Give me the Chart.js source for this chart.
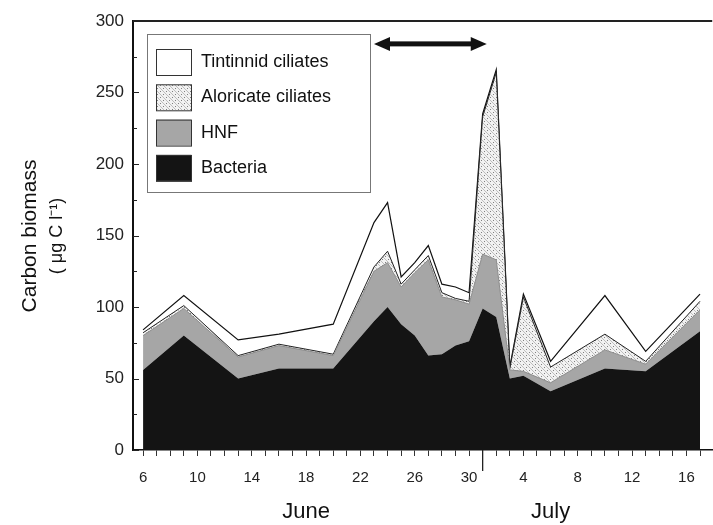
<!DOCTYPE html>
<html>
<head>
<meta charset="utf-8">
<script src="https://cdn.jsdelivr.net/npm/chart.js@4"></script>
<style>
  html, body { margin: 0; padding: 0; background: #fff; }
  #wrap { width: 713px; height: 525px; }
</style>
</head>
<body>
<div id="wrap"><canvas id="bioChart" width="713" height="525"></canvas></div>
<script>
// sampling days (June d -> d, July d -> 30 + d)
const days = [6, 9, 13, 16, 20, 23, 24, 25, 26, 27, 28, 29, 30, 31, 32, 33, 34, 36, 40, 43, 47];
// carbon biomass per group (ug C l-1), stacked bottom to top
const bacteria  = [56, 80, 50, 57, 57, 90, 100, 88, 80, 66, 67, 73, 76, 99, 93, 50, 52, 41, 57, 55, 83];
const hnf       = [24, 19, 15, 16,  9, 35,  31, 26, 44, 67, 40, 32, 26, 38, 40,  6,  3,  6, 13,  5, 15];
const aloricate = [ 2,  2,  1,  1,  1,  3,   8,  2,  2,  3,  3,  1,  2, 96, 131, 1, 52, 11, 11,  2,  6];
const tintinnid = [ 2,  7, 11,  7, 21, 31,  34,  5,  5,  7,  6,  8,  6,  2,  2,  1,  2,  4, 27,  7,  5];

const yTicks = [0, 50, 100, 150, 200, 250, 300];
const monthLabels = ["June", "July"];
const monthCenters = [18, 36];   // day position of the month names
const monthSplit = 31;           // July 1
const arrowSpan = [23, 31.3];    // double arrow period
const arrowLevel = 284;

const FONT = "'Liberation Sans', Arial, Helvetica, sans-serif";

const ctx = document.getElementById("bioChart").getContext("2d");

// dotted / hatched fill for aloricate ciliates
function makeHatch() {
  const c = document.createElement("canvas");
  c.width = 6;
  c.height = 6;
  const g = c.getContext("2d");
  g.fillStyle = "#f2f2f2";
  g.fillRect(0, 0, 6, 6);
  g.strokeStyle = "#bdbdbd";
  g.lineWidth = 1;
  g.beginPath();
  g.moveTo(0, 0);
  g.lineTo(6, 6);
  g.stroke();
  g.fillStyle = "#808080";
  g.fillRect(4, 1, 1, 1);
  g.fillRect(1, 4, 1, 1);
  return ctx.createPattern(c, "repeat");
}
const hatch = makeHatch();

function pts(values) {
  return values.map((v, i) => ({ x: days[i], y: v }));
}

// extra drawing: frame, inward y ticks, arrow, legend, titles
const extras = {
  id: "extras",
  afterDraw(chart) {
    const c = chart.ctx;
    const xs = chart.scales.x;
    const ys = chart.scales.y;
    const area = chart.chartArea;
    c.save();

    // top frame line
    c.strokeStyle = "#222";
    c.lineWidth = 2;
    c.beginPath();
    c.moveTo(area.left, area.top);
    c.lineTo(area.right, area.top);
    c.stroke();

    // inward ticks on the y axis
    c.lineWidth = 1;
    for (let v = 0; v <= 300; v += 25) {
      const y = Math.round(ys.getPixelForValue(v)) + 0.5;
      const len = v % 50 === 0 ? 6 : 4;
      c.beginPath();
      c.moveTo(area.left, y);
      c.lineTo(area.left + len, y);
      c.stroke();
    }

    // June / July divider tick
    const xd = xs.getPixelForValue(monthSplit);
    c.lineWidth = 1.3;
    c.beginPath();
    c.moveTo(xd, area.bottom);
    c.lineTo(xd, area.bottom + 21);
    c.stroke();

    // double-headed arrow
    const ax1 = xs.getPixelForValue(arrowSpan[0]);
    const ax2 = xs.getPixelForValue(arrowSpan[1]);
    const ay = ys.getPixelForValue(arrowLevel);
    c.fillStyle = "#111";
    c.fillRect(ax1 + 10, ay - 2.5, ax2 - ax1 - 20, 5);
    c.beginPath();
    c.moveTo(ax1, ay);
    c.lineTo(ax1 + 16, ay - 7);
    c.lineTo(ax1 + 16, ay + 7);
    c.closePath();
    c.fill();
    c.beginPath();
    c.moveTo(ax2, ay);
    c.lineTo(ax2 - 16, ay - 7);
    c.lineTo(ax2 - 16, ay + 7);
    c.closePath();
    c.fill();

    // legend box
    c.fillStyle = "#fff";
    c.fillRect(147, 34, 223, 158);
    c.strokeStyle = "#777";
    c.lineWidth = 1;
    c.strokeRect(147.5, 34.5, 223, 158);
    const items = [
      { label: "Tintinnid ciliates", fill: "#fff" },
      { label: "Aloricate ciliates", fill: hatch },
      { label: "HNF", fill: "#a6a6a6" },
      { label: "Bacteria", fill: "#141414" },
    ];
    c.font = "18px " + FONT;
    c.textBaseline = "middle";
    c.textAlign = "left";
    items.forEach((it, i) => {
      const cy = 62 + i * 35.3;
      c.fillStyle = it.fill;
      c.fillRect(156, cy - 13, 35, 26);
      c.strokeStyle = "#333";
      c.strokeRect(156.5, cy - 12.5, 35, 26);
      c.fillStyle = "#111";
      c.fillText(it.label, 201, cy);
    });

    // month names
    c.font = "22px " + FONT;
    c.textAlign = "center";
    monthLabels.forEach((m, i) => {
      c.fillText(m, xs.getPixelForValue(monthCenters[i]), 512);
    });

    // y axis title
    c.translate(30, 236);
    c.rotate(-Math.PI / 2);
    c.font = "21px " + FONT;
    c.fillText("Carbon biomass", 0, 0);
    c.font = "18px " + FONT;
    c.fillText("( \u03bcg C l\u207b\u00b9)", 0, 27);
    c.restore();
  },
};

new Chart(ctx, {
  type: "line",
  data: {
    datasets: [
      {
        label: "Bacteria",
        data: pts(bacteria),
        backgroundColor: "#141414",
        borderColor: "#141414",
        borderWidth: 0,
        fill: "origin",
      },
      {
        label: "HNF",
        data: pts(hnf),
        backgroundColor: "#a6a6a6",
        borderColor: "#8c8c8c",
        borderWidth: 1,
        fill: "-1",
      },
      {
        label: "Aloricate ciliates",
        data: pts(aloricate),
        backgroundColor: hatch,
        borderColor: "#222",
        borderWidth: 1,
        fill: "-1",
      },
      {
        label: "Tintinnid ciliates",
        data: pts(tintinnid),
        backgroundColor: "#fff",
        borderColor: "#111",
        borderWidth: 1.2,
        fill: "-1",
      },
    ],
  },
  options: {
    responsive: false,
    animation: false,
    layout: { padding: { top: 21, left: 0, right: 0, bottom: 0 } },
    elements: { point: { radius: 0 }, line: { tension: 0 } },
    plugins: {
      legend: { display: false },
      tooltip: { enabled: false },
    },
    scales: {
      x: {
        type: "linear",
        min: 5.26,
        max: 47.9,
        afterFit: (s) => { s.height = 75; },
        afterBuildTicks: (s) => {
          const t = [];
          for (let d = 6; d <= 47; d++) t.push({ value: d });
          s.ticks = t;
        },
        grid: { drawOnChartArea: false, drawTicks: true, tickLength: 6, color: "#333" },
        border: { color: "#111", width: 1.5 },
        ticks: {
          autoSkip: false,
          maxRotation: 0,
          padding: 13,
          color: "#222",
          font: { family: FONT, size: 15 },
          callback: (v) => ((v - 6) % 4 === 0 ? String(v <= 30 ? v : v - 30) : ""),
        },
      },
      y: {
        stacked: true,
        min: 0,
        max: 300,
        afterFit: (s) => { s.width = 133; },
        afterBuildTicks: (s) => {
          s.ticks = yTicks.map((v) => ({ value: v }));
        },
        grid: { drawOnChartArea: false, drawTicks: false },
        border: { color: "#111", width: 2 },
        ticks: {
          padding: 9,
          color: "#222",
          font: { family: FONT, size: 17 },
        },
      },
    },
  },
  plugins: [extras],
});
</script>
</body>
</html>
